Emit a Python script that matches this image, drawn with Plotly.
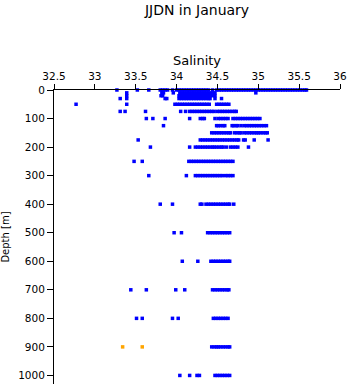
import plotly.graph_objects as go

# Salinity readings per sampling depth (m)
sal_0 = [33.27, 33.52, 33.66, 33.80, 33.83, 33.86, 33.89, 33.95, 34.00,
         34.03, 34.06, 34.09, 34.12, 34.15, 34.18, 34.21, 34.24, 34.27, 34.30,
         34.33, 34.36, 34.39, 34.44, 34.49, 34.52, 34.55, 34.58, 34.61, 34.64,
         34.67, 34.70, 34.73, 34.76, 34.79, 34.82, 34.85, 34.88, 34.91, 34.94,
         34.97, 35.00, 35.03, 35.06, 35.09, 35.12, 35.15, 35.18, 35.21, 35.24,
         35.27, 35.30, 35.33, 35.36, 35.39, 35.42, 35.45, 35.48, 35.51, 35.54,
         35.57, 35.59]
sal_10 = [33.39, 33.82, 33.84, 33.96, 34.04, 34.07, 34.10, 34.13, 34.16, 34.19,
          34.22, 34.25, 34.28, 34.31, 34.34, 34.37, 34.40, 34.44, 34.47, 34.97]
sal_20 = [33.39, 33.81, 33.83, 34.03, 34.06, 34.09, 34.12, 34.15, 34.18, 34.21,
          34.24, 34.27, 34.30, 34.33, 34.36, 34.39, 34.41, 34.44, 34.47]
sal_30 = [33.31, 33.39, 33.86, 33.88, 34.03, 34.06, 34.09, 34.12, 34.15, 34.18,
          34.21, 34.24, 34.27, 34.30, 34.33, 34.36, 34.39, 34.41, 34.47, 34.55]
sal_50 = [32.77, 33.39, 33.98, 34.01, 34.04, 34.07, 34.10, 34.13, 34.16, 34.19,
          34.22, 34.25, 34.28, 34.31, 34.34, 34.37, 34.40, 34.49, 34.52, 34.55,
          34.58, 34.61, 34.64]
sal_75 = [33.31, 33.37, 33.62, 34.05, 34.11, 34.16, 34.19, 34.22, 34.25, 34.28,
          34.31, 34.34, 34.37, 34.40, 34.43, 34.46, 34.50, 34.53, 34.56, 34.59,
          34.62, 34.65, 34.68, 34.71, 34.73]
sal_100 = [33.63, 33.71, 33.86, 34.16, 34.29, 34.32, 34.34, 34.47, 34.51, 34.54,
           34.57, 34.60, 34.63, 34.69, 34.72, 34.75, 34.78, 34.81, 34.84, 34.87,
           34.90, 34.93, 34.96, 34.99, 35.02]
sal_125 = [33.84, 34.49, 34.51, 34.54, 34.57, 34.59, 34.68, 34.70, 34.73, 34.75,
           34.79, 34.83, 34.86, 34.89, 34.92, 34.95, 34.98, 35.01, 35.04, 35.07,
           35.10]
sal_150 = [34.43, 34.46, 34.49, 34.52, 34.55, 34.58, 34.61, 34.64, 34.66, 34.71,
           34.74, 34.77, 34.79, 34.83, 34.86, 34.89, 34.92, 34.95, 34.98, 35.00,
           35.03, 35.06, 35.09, 35.11]
sal_175 = [33.53, 34.29, 34.32, 34.35, 34.38, 34.41, 34.44, 34.47, 34.50, 34.53,
           34.56, 34.59, 34.62, 34.65, 34.68, 34.71, 34.74, 34.76, 34.82, 34.84,
           34.95, 35.12]
sal_200 = [33.68, 34.16, 34.23, 34.26, 34.29, 34.32, 34.35, 34.38, 34.41, 34.44,
           34.46, 34.49, 34.52, 34.55, 34.57, 34.61, 34.66, 34.69, 34.72, 34.75,
           34.88]
sal_250 = [33.48, 33.58, 34.15, 34.18, 34.21, 34.24, 34.27, 34.30, 34.33, 34.36,
           34.39, 34.42, 34.45, 34.48, 34.51, 34.54, 34.57, 34.60, 34.63, 34.66,
           34.69]
sal_300 = [33.66, 34.12, 34.23, 34.26, 34.29, 34.32, 34.35, 34.38, 34.41, 34.44,
           34.47, 34.50, 34.53, 34.56, 34.60, 34.63, 34.66, 34.69]
sal_400 = [33.80, 33.95, 34.29, 34.31, 34.36, 34.39, 34.42, 34.45, 34.48, 34.51,
           34.54, 34.57, 34.60, 34.63, 34.65, 34.70]
sal_500 = [33.97, 34.06, 34.38, 34.41, 34.44, 34.47, 34.50, 34.53, 34.56, 34.59,
           34.62, 34.65]
sal_600 = [34.07, 34.26, 34.42, 34.45, 34.48, 34.51, 34.54, 34.57, 34.60, 34.63,
           34.65]
sal_700 = [33.44, 33.63, 33.99, 34.10, 34.44, 34.47, 34.50, 34.53, 34.56, 34.59,
           34.62, 34.64]
sal_800 = [33.51, 33.58, 33.95, 34.02, 34.45, 34.48, 34.51, 34.54, 34.57, 34.60,
           34.63]
sal_900 = [34.43, 34.46, 34.49, 34.51, 34.54, 34.57, 34.60, 34.63, 34.65]
sal_1000 = [34.04, 34.16, 34.25, 34.28, 34.47, 34.50, 34.53, 34.56, 34.59,
            34.62, 34.65]

# Flagged samples at 900 m
flag_depth = [900, 900]
flag_sal = [33.34, 33.58]

depth_levels = [0, 10, 20, 30, 50, 75, 100, 125, 150, 175, 200, 250, 300,
                400, 500, 600, 700, 800, 900, 1000]
profiles = [sal_0, sal_10, sal_20, sal_30, sal_50, sal_75, sal_100, sal_125,
            sal_150, sal_175, sal_200, sal_250, sal_300, sal_400, sal_500,
            sal_600, sal_700, sal_800, sal_900, sal_1000]

x_vals, y_vals = [], []
for d, sal in zip(depth_levels, profiles):
    x_vals.extend(sal)
    y_vals.extend([d] * len(sal))

x_ticks = [32.5, 33, 33.5, 34, 34.5, 35, 35.5, 36]
x_tick_text = ["32.5", "33", "33.5", "34", "34.5", "35", "35.5", "36"]
y_ticks = [0, 100, 200, 300, 400, 500, 600, 700, 800, 900, 1000]

fig = go.Figure()
fig.add_trace(go.Scatter(
    x=x_vals, y=y_vals, mode="markers",
    marker=dict(symbol="square", size=3.5, color="#0000ff", line=dict(width=0)),
    cliponaxis=False, showlegend=False,
))
fig.add_trace(go.Scatter(
    x=flag_sal, y=flag_depth, mode="markers",
    marker=dict(symbol="square", size=3.5, color="#ffa500", line=dict(width=0)),
    cliponaxis=False, showlegend=False,
))

font_family = "DejaVu Sans"
fig.update_layout(
    width=348, height=384,
    margin=dict(l=54, r=8, t=90, b=0),
    paper_bgcolor="white", plot_bgcolor="white",
    font=dict(family=font_family, size=10.5, color="black"),
    title=dict(text="JJDN in January", x=0.5, xref="paper",
               y=1 - 10 / 384, yref="container", yanchor="middle",
               font=dict(family=font_family, size=14, color="black")),
    xaxis=dict(
        side="top", range=[32.5, 36], tickvals=x_ticks, ticktext=x_tick_text,
        showgrid=False, zeroline=False, showline=True, linecolor="black",
        linewidth=1, ticks="outside", ticklen=5, tickcolor="black",
        title=dict(text="Salinity", standoff=1),
    ),
    yaxis=dict(
        range=[1030, 0], tickvals=y_ticks, showgrid=False, zeroline=False,
        showline=True, linecolor="black", linewidth=1, ticks="outside",
        ticklen=6, tickcolor="black",
        title=dict(text="Depth [m]", standoff=8,
                   font=dict(family=font_family, size=10, color="black")),
    ),
)

fig.write_html("out.html")
